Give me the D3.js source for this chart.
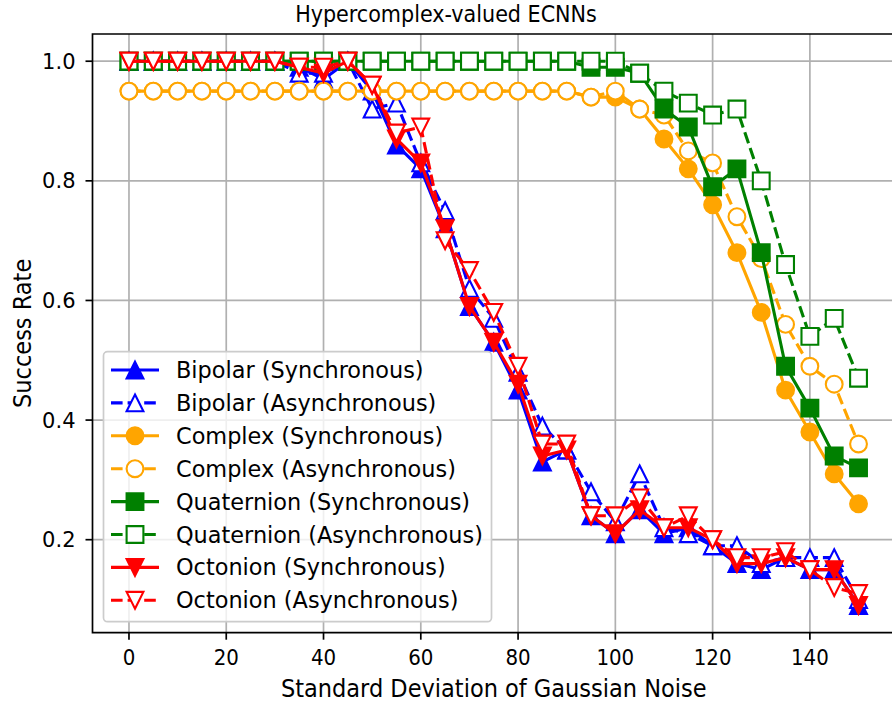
<!DOCTYPE html>
<html>
<head>
<meta charset="utf-8">
<script src="https://cdn.jsdelivr.net/npm/d3@7/dist/d3.min.js"></script>
<style>
  body { margin: 0; background: #fff; }
  text { font-family: "DejaVu Sans", sans-serif; fill: #000; }
  text.narrow { font-family: "DejaVu Sans Condensed", "DejaVu Sans", sans-serif; font-stretch: condensed; }
</style>
</head>
<body>
<svg id="chart" width="892" height="707"></svg>
<script>
// data
const noise = [0, 5, 10, 15, 20, 25, 30, 35, 40, 45, 50, 55, 60, 65, 70, 75, 80, 85, 90, 95, 100, 105, 110, 115, 120, 125, 130, 135, 140, 145, 150];

const bipolarSync  = [1, 1, 1, 1, 1, 1, 1, 0.99, 0.97, 1, 0.95, 0.86, 0.82, 0.72, 0.59, 0.53, 0.45, 0.33, 0.35, 0.24, 0.21, 0.25, 0.21, 0.22, 0.19, 0.16, 0.15, 0.17, 0.15, 0.15, 0.09];
const bipolarAsync = [1, 1, 1, 1, 1, 1, 1, 0.98, 0.98, 1, 0.92, 0.93, 0.83, 0.75, 0.62, 0.57, 0.48, 0.39, 0.35, 0.28, 0.23, 0.31, 0.22, 0.21, 0.19, 0.19, 0.16, 0.17, 0.17, 0.17, 0.10];
const complexSync  = [0.95, 0.95, 0.95, 0.95, 0.95, 0.95, 0.95, 0.95, 0.95, 0.95, 0.95, 0.95, 0.95, 0.95, 0.95, 0.95, 0.95, 0.95, 0.95, 0.94, 0.94, 0.92, 0.87, 0.82, 0.76, 0.68, 0.58, 0.45, 0.38, 0.31, 0.26];
const complexAsync = [0.95, 0.95, 0.95, 0.95, 0.95, 0.95, 0.95, 0.95, 0.95, 0.95, 0.95, 0.95, 0.95, 0.95, 0.95, 0.95, 0.95, 0.95, 0.95, 0.94, 0.95, 0.92, 0.91, 0.85, 0.83, 0.74, 0.67, 0.56, 0.49, 0.46, 0.36];
const quatSync     = [1, 1, 1, 1, 1, 1, 1, 1, 1, 1, 1, 1, 1, 1, 1, 1, 1, 1, 1, 0.99, 0.99, 0.98, 0.92, 0.89, 0.79, 0.82, 0.68, 0.49, 0.42, 0.34, 0.32];
const quatAsync    = [1, 1, 1, 1, 1, 1, 1, 1, 1, 1, 1, 1, 1, 1, 1, 1, 1, 1, 1, 1, 1, 0.98, 0.95, 0.93, 0.91, 0.92, 0.80, 0.66, 0.54, 0.57, 0.47];
const octSync      = [1, 1, 1, 1, 1, 1, 1, 0.99, 0.98, 1, 0.96, 0.87, 0.83, 0.72, 0.59, 0.53, 0.46, 0.34, 0.35, 0.24, 0.21, 0.25, 0.22, 0.22, 0.20, 0.16, 0.16, 0.17, 0.15, 0.15, 0.09];
const octAsync     = [1, 1, 1, 1, 1, 1, 1, 0.99, 0.99, 1, 0.96, 0.88, 0.89, 0.70, 0.65, 0.58, 0.49, 0.36, 0.36, 0.24, 0.24, 0.27, 0.22, 0.24, 0.20, 0.17, 0.17, 0.18, 0.15, 0.12, 0.11];

const seriesNames = ['Bipolar (Synchronous)', 'Bipolar (Asynchronous)', 'Complex (Synchronous)', 'Complex (Asynchronous)',
                     'Quaternion (Synchronous)', 'Quaternion (Asynchronous)', 'Octonion (Synchronous)', 'Octonion (Asynchronous)'];
const xTicks = [0, 20, 40, 60, 80, 100, 120, 140];
const yTicks = [0.2, 0.4, 0.6, 0.8, 1.0];
const yTickLabels = ['0.2', '0.4', '0.6', '0.8', '1.0'];

// look of each series (same order as names)
const series = [
  { values: bipolarSync,  color: 'blue',   marker: 'tri_up',   dashed: false, filled: true },
  { values: bipolarAsync, color: 'blue',   marker: 'tri_up',   dashed: true,  filled: false },
  { values: complexSync,  color: 'orange', marker: 'circle',   dashed: false, filled: true },
  { values: complexAsync, color: 'orange', marker: 'circle',   dashed: true,  filled: false },
  { values: quatSync,     color: 'green',  marker: 'square',   dashed: false, filled: true },
  { values: quatAsync,    color: 'green',  marker: 'square',   dashed: true,  filled: false },
  { values: octSync,      color: 'red',    marker: 'tri_down', dashed: false, filled: true },
  { values: octAsync,     color: 'red',    marker: 'tri_down', dashed: true,  filled: false }
];

const plotLeft = 92.5, plotRight = 895, plotTop = 34, plotBottom = 632.7;
const ms = 8.4;      // half marker size
const lw = 3.1;      // line width

const svg = d3.select('#chart');

const x = d3.scaleLinear().domain([-7.5, 157.5]).range([plotLeft, plotRight]);
const y = d3.scaleLinear().domain([0.0445, 1.0455]).range([plotBottom, plotTop]);

function markerPath(kind) {
  const s = ms;
  if (kind === 'square') return `M${-s},${-s}H${s}V${s}H${-s}Z`;
  if (kind === 'circle') return `M${s},0A${s},${s} 0 1,1 ${-s},0A${s},${s} 0 1,1 ${s},0Z`;
  if (kind === 'tri_up') return `M0,${-s}L${s},${s}L${-s},${s}Z`;
  return `M0,${s}L${s},${-s}L${-s},${-s}Z`;
}

// grid
const grid = svg.append('g').attr('stroke', '#b0b0b0').attr('stroke-width', 1.7);
xTicks.forEach(t => grid.append('line').attr('x1', x(t)).attr('x2', x(t)).attr('y1', plotTop).attr('y2', plotBottom));
yTicks.forEach(t => grid.append('line').attr('x1', plotLeft).attr('x2', plotRight).attr('y1', y(t)).attr('y2', y(t)));

// series, line then markers, in plot order
const line = d3.line().x((d, i) => x(noise[i])).y(d => y(d));
series.forEach(s => {
  const g = svg.append('g');
  g.append('path')
    .attr('d', line(s.values))
    .attr('fill', 'none')
    .attr('stroke', s.color)
    .attr('stroke-width', lw)
    .attr('stroke-linejoin', 'round')
    .attr('stroke-dasharray', s.dashed ? '11.6,5' : null);
  g.selectAll('.mk')
    .data(s.values)
    .enter()
    .append('path')
    .attr('class', 'mk')
    .attr('transform', (d, i) => `translate(${x(noise[i])},${y(d)})`)
    .attr('d', markerPath(s.marker))
    .attr('fill', s.filled ? s.color : '#fff')
    .attr('stroke', s.color)
    .attr('stroke-width', 2.1);
});

// spines (right one falls outside the picture)
const frame = svg.append('g').attr('stroke', '#000').attr('stroke-width', 1.7).attr('fill', 'none');
frame.append('path').attr('d', `M${plotLeft},${plotTop}V${plotBottom}H${plotRight}V${plotTop}Z`);

// ticks
const ticks = svg.append('g');
xTicks.forEach(t => {
  ticks.append('line').attr('x1', x(t)).attr('x2', x(t)).attr('y1', plotBottom).attr('y2', plotBottom + 7)
    .attr('stroke', '#000').attr('stroke-width', 1.7);
  ticks.append('text').attr('class', 'narrow').attr('x', x(t)).attr('y', 665).attr('text-anchor', 'middle')
    .style('font-size', '22px').text(t);
});
yTicks.forEach((t, i) => {
  ticks.append('line').attr('x1', plotLeft - 7).attr('x2', plotLeft).attr('y1', y(t)).attr('y2', y(t))
    .attr('stroke', '#000').attr('stroke-width', 1.7);
  ticks.append('text').attr('x', 75.5).attr('y', y(t) + 7.6).attr('text-anchor', 'end')
    .style('font-size', '21px').text(yTickLabels[i]);
});

// labels
svg.append('text').attr('class', 'narrow').attr('x', 446).attr('y', 22).attr('text-anchor', 'middle')
  .style('font-size', '23px').text('Hypercomplex-valued ECNNs');
svg.append('text').attr('class', 'narrow').attr('x', (plotLeft + plotRight) / 2).attr('y', 697).attr('text-anchor', 'middle')
  .style('font-size', '25px').text('Standard Deviation of Gaussian Noise');
svg.append('text').attr('class', 'narrow').attr('transform', `translate(31,${(plotTop + plotBottom) / 2}) rotate(-90)`).attr('text-anchor', 'middle')
  .style('font-size', '25px').text('Success Rate');

// legend
const lg = svg.append('g');
lg.append('rect')
  .attr('x', 103.5).attr('y', 351.7).attr('width', 388).attr('height', 270)
  .attr('rx', 4).attr('fill', '#fff').attr('fill-opacity', 0.8)
  .attr('stroke', '#cccccc').attr('stroke-width', 1.7);
series.forEach((s, i) => {
  const cy = 370 + i * 32.9;
  lg.append('line').attr('x1', 111).attr('x2', 159).attr('y1', cy).attr('y2', cy)
    .attr('stroke', s.color).attr('stroke-width', lw)
    .attr('stroke-dasharray', s.dashed ? '11.6,5' : null);
  lg.append('path').attr('transform', `translate(135,${cy})`).attr('d', markerPath(s.marker))
    .attr('fill', s.filled ? s.color : '#fff').attr('stroke', s.color).attr('stroke-width', 2.1);
  lg.append('text').attr('x', 176).attr('y', cy + 8)
    .style('font-size', '22.4px').text(seriesNames[i]);
});
</script>
</body>
</html>
